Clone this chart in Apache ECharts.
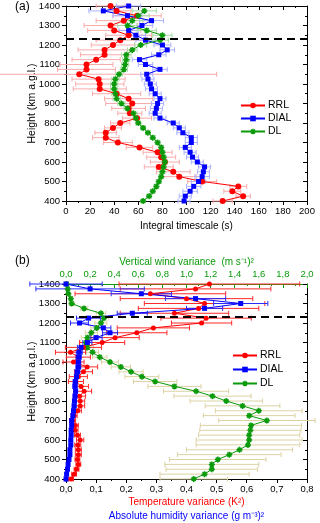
<!DOCTYPE html>
<html>
<head>
<meta charset="UTF-8">
<title>Integral timescale and variance profiles</title>
<script src="https://cdn.jsdelivr.net/npm/echarts@6/dist/echarts.min.js"></script>
<style>
  html, body { margin: 0; padding: 0; background: #fff; }
  #chart { width: 320px; height: 523px; }
</style>
</head>
<body>
<div id="chart"></div>
<script>
// heights (m a.g.l.), shared by every profile
const heights = [400, 425, 450, 475, 500, 525, 550, 575, 600, 625, 650, 675, 700, 725, 750, 775, 800, 825, 850, 875,
  900, 925, 950, 975, 1000, 1025, 1050, 1075, 1100, 1125, 1150, 1175, 1200, 1225, 1250, 1275, 1300, 1325, 1350, 1375, 1400];

// panel (a): integral timescale (s)
const rrlA = [130, 147, 138, 143, 113, 94, 89, 77, 82, 79, 76, 61, 43, 33, 33, 39, 45, 59, 53, 52,
  55, 52, 42, 28, 28, 27, 11, 17, 17, 25, 32, 32, 39, 45, 52, 40, 37, 48, 59, 42, 37];
const rrlAErr = [8, 6, 7, 7, 12, 14, 14, 12, 12, 12, 12, 11, 12, 11, 9, 7, 8, 12, 10, 14,
  22, 20, 20, 22, 20, 22, 114, 24, 22, 20, 20, 22, 18, 20, 19, 22, 22, 23, 20, 12, 12];
const dialA = [98, 99, 103, 106, 110, 113, 114, 115, 109, 105, 103, 99, 104, 104, 97, 94, 89, 78, 74, 75,
  76, 78, 74, 71, 70, 68, 67, 78, 66, 61, 77, 84, 80, 66, 58, 52, 63, 71, 51, 31, 52];
const dialAErr = [5, 5, 6, 6, 6, 6, 5, 5, 5, 5, 5, 5, 5, 5, 5, 5, 5, 5, 5, 5,
  5, 5, 5, 5, 5, 5, 5, 6, 6, 6, 6, 6, 7, 8, 8, 8, 9, 10, 12, 12, 10];
const dlA = [64, 69, 72, 75, 77, 79, 80, 81, 82, 81, 80, 79, 76, 72, 68, 64, 60, 58, 56, 51,
  46, 42, 41, 40, 40, 41, 44, 48, 49, 50, 50, 55, 62, 78, 80, 67, 51, 55, 60, 65, null];
const dlAErr = [2, 2, 2, 2, 2, 2, 2, 2, 2, 2, 2, 2, 2, 2, 2, 2, 2, 2, 3, 3,
  3, 3, 3, 3, 3, 3, 3, 3, 3, 3, 4, 4, 5, 7, 8, 8, 8, 9, 9, 10, 10];

// panel (b): temperature variance (K^2) and humidity variance (g m-3)^2 on the bottom axis
const rrlB = [0.017, 0.027, 0.035, 0.041, 0.038, 0.041, 0.041, 0.039, 0.047, 0.038, 0.030, 0.031, 0.022, 0.027, 0.039, 0.047, 0.047, 0.045, 0.060, 0.050,
  0.033, 0.041, 0.058, 0.070, 0.025, 0.041, 0.015, 0.058, 0.120, 0.163, 0.235, 0.290, 0.450, 0.465, 0.360, 0.440, 0.460, 0.400, 0.280, 0.430, 0.476];
const rrlBErr = [0.008, 0.008, 0.008, 0.008, 0.008, 0.01, 0.01, 0.01, 0.012, 0.01, 0.01, 0.01, 0.01, 0.01, 0.012, 0.015, 0.015, 0.02, 0.025, 0.025,
  0.025, 0.03, 0.03, 0.035, 0.035, 0.04, 0.05, 0.06, 0.075, 0.08, 0.1, 0.12, 0.1, 0.15, 0.18, 0.2, 0.2, 0.22, 0.25, 0.25, 0.3];
const dialB = [0.0, 0.002, 0.005, 0.007, 0.010, 0.013, 0.013, 0.016, 0.016, 0.017, 0.017, 0.019, 0.019, 0.023, 0.025, 0.027, 0.028, 0.030, 0.032, 0.030,
  0.031, 0.035, 0.038, 0.041, 0.041, 0.042, 0.044, 0.050, 0.071, 0.100, 0.146, 0.124, 0.045, 0.075, 0.220, 0.460, 0.580, 0.430, 0.250, 0.080, 0.0];
const dialBErr = [0.003, 0.003, 0.003, 0.004, 0.004, 0.004, 0.004, 0.005, 0.005, 0.005, 0.005, 0.005, 0.005, 0.005, 0.005, 0.006, 0.006, 0.006, 0.006, 0.007,
  0.007, 0.007, 0.008, 0.008, 0.008, 0.009, 0.01, 0.012, 0.015, 0.02, 0.025, 0.025, 0.03, 0.04, 0.05, 0.06, 0.09, 0.1, 0.1, 0.18, 0.12];
// vertical wind variance (m s-1)^2 on the top axis
const dlB = [1.06, 1.15, 1.21, 1.21, 1.26, 1.355, 1.44, 1.51, 1.52, 1.52, 1.53, 1.535, 1.667, 1.52, 1.60, 1.465, 1.33, 1.216, 1.08, 0.90,
  0.74, 0.63, 0.54, 0.455, 0.365, 0.28, 0.22, 0.177, 0.166, 0.177, 0.21, 0.255, 0.29, 0.315, 0.29, 0.15, 0.047, 0.04, 0.02, 0.014, 0.005];
const dlBErr = [0.28, 0.37, 0.38, 0.39, 0.40, 0.43, 0.44, 0.43, 0.44, 0.42, 0.42, 0.42, 0.40, 0.38, 0.36, 0.31, 0.30, 0.32, 0.27, 0.22,
  0.18, 0.14, 0.10, 0.08, 0.07, 0.06, 0.05, 0.05, 0.05, 0.05, 0.05, 0.05, 0.05, 0.04, 0.04, 0.03, 0.02, 0.01, 0.01, 0.01, 0.01];

const blhHeight = 1230;

const FONT = 'Liberation Sans, Arial, sans-serif';
const RED = '#ff0000', BLUE = '#0000ff', GREEN = '#0a9a0a';
const DL_SYMBOL = 'path://M3,0H5V8H3Z M0,3H8V5H0Z M0.6,1.9L1.9,0.6L7.4,6.1L6.1,7.4Z M6.1,0.6L7.4,1.9L1.9,7.4L0.6,6.1Z';

function pairs(vals) {
  const out = [];
  vals.forEach((v, i) => { if (v !== null) out.push([v, heights[i]]); });
  return out;
}
function errData(vals, errs) {
  const out = [];
  vals.forEach((v, i) => { if (v !== null) out.push([v, heights[i], errs[i]]); });
  return out;
}

function errSeries(vals, errs, color, xi, yi) {
  return {
    type: 'custom',
    xAxisIndex: xi, yAxisIndex: yi,
    clip: false, silent: true, z: 1,
    encode: { x: 0, y: 1 },
    data: errData(vals, errs),
    renderItem: function (params, api) {
      const v = api.value(0), h = api.value(1), e = api.value(2);
      const a = api.coord([v - e, h]), b = api.coord([v + e, h]);
      const st = { stroke: color, lineWidth: 1 };
      return {
        type: 'group',
        children: [
          { type: 'line', shape: { x1: a[0], y1: a[1], x2: b[0], y2: b[1] }, style: st },
          { type: 'line', shape: { x1: a[0], y1: a[1] - 2.5, x2: a[0], y2: a[1] + 2.5 }, style: st },
          { type: 'line', shape: { x1: b[0], y1: b[1] - 2.5, x2: b[0], y2: b[1] + 2.5 }, style: st }
        ]
      };
    }
  };
}

function lineSeries(name, vals, color, symbol, size, xi, yi) {
  return {
    name: name, type: 'line',
    xAxisIndex: xi, yAxisIndex: yi,
    data: pairs(vals),
    symbol: symbol, symbolSize: size,
    showAllSymbol: true,
    itemStyle: { color: color },
    lineStyle: { color: color, width: 1 },
    z: 3
  };
}

const dashed = {
  symbol: 'none', silent: true,
  label: { show: false },
  lineStyle: { color: '#000', type: [8, 5], width: 2 },
  data: [{ yAxis: blhHeight }]
};

function comma(d) {
  return v => v.toFixed(d).replace('.', ',');
}

const axisBase = {
  type: 'value',
  axisLine: { show: true, onZero: false, lineStyle: { color: '#000', width: 1 } },
  axisTick: { show: true, length: 4, lineStyle: { color: '#000' } },
  minorTick: { show: true, splitNumber: 2, length: 2, lineStyle: { color: '#000' } },
  splitLine: { show: false },
  axisLabel: { color: '#000', fontSize: 9.5, fontFamily: FONT }
};
function ax(extra) {
  return echarts.util.merge(echarts.util.clone(axisBase), extra, true);
}

const chart = echarts.init(document.getElementById('chart'));
const rrlSeriesA = lineSeries('RRL', rrlA, RED, 'circle', 6, 0, 0);
rrlSeriesA.markLine = dashed;
const rrlSeriesB = lineSeries('RRL', rrlB, RED, 'circle', 5, 2, 2);
rrlSeriesB.markLine = dashed;

const heightLabel = { margin: 6, formatter: v => String(v) };
const heightName = {
  name: 'Height (km a.g.l.)', nameLocation: 'middle', nameGap: 28, nameMoveOverlap: false,
  nameTextStyle: { fontSize: 10.5, color: '#000', fontFamily: FONT }
};

chart.setOption({
  animation: false,
  textStyle: { fontFamily: FONT },
  grid: [
    { left: 66, top: 6, width: 241, height: 195 },
    { left: 66, top: 284, width: 241, height: 195 }
  ],
  xAxis: [
    ax({ gridIndex: 0, position: 'bottom', min: 0, max: 200, interval: 20,
      axisLabel: { margin: 5 },
      name: 'Integral timescale (s)', nameLocation: 'middle', nameGap: 20,
      nameTextStyle: { fontSize: 10, color: '#000', fontFamily: FONT } }),
    ax({ gridIndex: 0, position: 'top', min: 0, max: 200, interval: 20,
      axisLabel: { show: false }, axisTick: { inside: true }, minorTick: { show: true } }),
    ax({ gridIndex: 1, position: 'bottom', min: 0, max: 0.8, interval: 0.1,
      axisLabel: { margin: 5, formatter: comma(1) },
      name: '{r|Temperature variance (K²)}\n{b|Absolute humidity variance (g m⁻³)²}',
      nameLocation: 'middle', nameGap: 16,
      nameTextStyle: { fontFamily: FONT, rich: {
        r: { color: RED, fontSize: 10, lineHeight: 14, fontFamily: FONT },
        b: { color: BLUE, fontSize: 10, lineHeight: 14, fontFamily: FONT } } } }),
    ax({ gridIndex: 1, position: 'top', min: 0, max: 2, interval: 0.2,
      axisLine: { lineStyle: { color: GREEN } },
      axisTick: { inside: true, lineStyle: { color: GREEN } },
      minorTick: { lineStyle: { color: GREEN } },
      axisLabel: { color: GREEN, margin: 5, formatter: comma(1) },
      name: 'Vertical wind variance  (m s⁻¹)²', nameLocation: 'middle', nameGap: 17,
      nameTextStyle: { fontSize: 10, color: GREEN, fontFamily: FONT } })
  ],
  yAxis: [
    ax(Object.assign({ gridIndex: 0, position: 'left', min: 400, max: 1400, interval: 100,
      axisLabel: heightLabel }, heightName)),
    ax({ gridIndex: 0, position: 'right', min: 400, max: 1400, interval: 100,
      axisLabel: { show: false }, axisTick: { inside: true }, minorTick: { show: true } }),
    ax(Object.assign({ gridIndex: 1, position: 'left', min: 400, max: 1400, interval: 100,
      axisLabel: heightLabel }, heightName)),
    ax({ gridIndex: 1, position: 'right', min: 400, max: 1400, interval: 100,
      axisLabel: { show: false }, axisTick: { inside: true }, minorTick: { show: true } })
  ],
  legend: [
    { orient: 'vertical', left: 235, top: 95, itemWidth: 24, itemHeight: 7, itemGap: 2,
      textStyle: { fontSize: 10.5, color: '#000', fontFamily: FONT, padding: [0, 0, 0, -2] },
      data: ['RRL', 'DIAL', 'DL'], selectedMode: false },
    { orient: 'vertical', left: 227, top: 345, itemWidth: 24, itemHeight: 7, itemGap: 3,
      textStyle: { fontSize: 10.5, color: '#000', fontFamily: FONT, padding: [0, 0, 0, -2] },
      data: ['RRL', 'DIAL', 'DL'], selectedMode: false }
  ],
  graphic: [
    { type: 'text', left: 15, top: 1, style: { text: '(a)', fontSize: 12, fill: '#000', fontFamily: FONT } },
    { type: 'text', left: 15, top: 255, style: { text: '(b)', fontSize: 12, fill: '#000', fontFamily: FONT } }
  ],
  series: [
    errSeries(rrlA, rrlAErr, '#f9aaaa', 0, 0),
    errSeries(dialA, dialAErr, '#aab0ff', 0, 0),
    errSeries(dlA, dlAErr, '#a6dca6', 0, 0),
    rrlSeriesA,
    lineSeries('DIAL', dialA, BLUE, 'rect', 5, 0, 0),
    lineSeries('DL', dlA, GREEN, DL_SYMBOL, 6, 0, 0),

    errSeries(dlB, dlBErr, '#dcd2a4', 3, 2),
    errSeries(rrlB, rrlBErr, '#ff2a2a', 2, 2),
    errSeries(dialB, dialBErr, '#2a2aff', 2, 2),
    lineSeries('DL', dlB, GREEN, DL_SYMBOL, 6, 3, 2),
    rrlSeriesB,
    lineSeries('DIAL', dialB, BLUE, 'rect', 5, 2, 2)
  ]
});
</script>
</body>
</html>
